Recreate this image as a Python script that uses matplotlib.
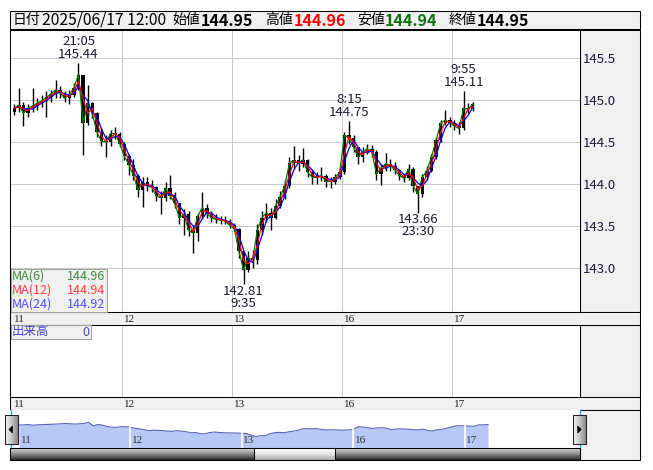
import matplotlib
matplotlib.use('Agg')
import matplotlib.pyplot as plt
import numpy as np
import pandas as pd
from matplotlib.patches import Rectangle, Polygon
from matplotlib.colors import LinearSegmentedColormap

plt.rcParams['font.family'] = ['Noto Sans CJK JP', 'DejaVu Sans']

W, H = 653, 470

# ---------------- data ----------------
day_labels = ['11', '12', '13', '16', '17']
day_starts = [0, 24, 48, 72, 96]          # trading-hour index of each day start
price_ticks = [143.0, 143.5, 144.0, 144.5, 145.0, 145.5]

first_open = 144.86
closes = [144.90, 144.94, 144.84, 144.90, 144.93, 144.96, 144.99, 145.03, 145.07, 145.12,
          145.08, 145.02, 145.06, 145.14, 145.30, 144.72, 144.96, 144.84, 144.62, 144.51,
          144.50, 144.60, 144.60, 144.48, 144.33, 144.23, 144.10, 143.93, 144.02, 143.98,
          143.96, 143.86, 143.84, 143.95, 143.86, 143.77, 143.60, 143.64, 143.45, 143.42,
          143.62, 143.72, 143.65, 143.60, 143.58, 143.57, 143.56, 143.51, 143.47, 143.20,
          142.98, 143.12, 143.10, 143.45, 143.60, 143.66, 143.60, 143.74, 143.85, 143.98,
          144.25, 144.28, 144.24, 144.28, 144.14, 144.08, 144.08, 144.10, 144.03, 144.03,
          144.08, 144.14, 144.58, 144.55, 144.44, 144.32, 144.38, 144.42, 144.38, 144.12,
          144.19, 144.24, 144.22, 144.17, 144.10, 144.07, 144.18, 143.98, 143.88, 144.08,
          144.16, 144.32, 144.52, 144.72, 144.76, 144.73, 144.69, 144.66, 144.90, 144.89,
          144.95]
highs = [144.95, 145.14, 144.98, 144.95, 145.14, 145.02, 145.06, 145.10, 145.12, 145.24,
         145.16, 145.10, 145.12, 145.20, 145.44, 145.30, 145.18, 144.98, 144.85, 144.66,
         144.58, 144.64, 144.68, 144.62, 144.50, 144.36, 144.30, 144.12, 144.08, 144.08,
         144.05, 143.98, 143.92, 144.02, 144.11, 143.90, 143.78, 143.70, 143.68, 143.50,
         143.66, 143.90, 143.76, 143.68, 143.64, 143.62, 143.62, 143.58, 143.54, 143.48,
         143.12, 143.20, 143.22, 143.52, 143.68, 143.78, 143.72, 143.82, 143.92, 144.05,
         144.32, 144.45, 144.34, 144.43, 144.30, 144.18, 144.14, 144.20, 144.12, 144.08,
         144.12, 144.20, 144.62, 144.75, 144.58, 144.44, 144.44, 144.48, 144.46, 144.40,
         144.24, 144.37, 144.30, 144.26, 144.18, 144.12, 144.24, 144.20, 143.95, 144.12,
         144.22, 144.36, 144.56, 144.76, 144.88, 144.80, 144.76, 144.74, 145.11, 144.96,
         144.98]
lows = [144.82, 144.86, 144.69, 144.80, 144.86, 144.88, 144.92, 144.80, 144.98, 145.02,
        145.02, 144.97, 144.95, 145.04, 145.12, 144.35, 144.70, 144.78, 144.56, 144.45,
        144.32, 144.45, 144.54, 144.44, 144.28, 144.11, 144.05, 143.85, 143.73, 143.92,
        143.90, 143.80, 143.65, 143.80, 143.82, 143.72, 143.52, 143.40, 143.38, 143.18,
        143.32, 143.58, 143.60, 143.55, 143.54, 143.52, 143.52, 143.48, 143.44, 143.12,
        142.81, 142.95, 143.00, 143.05, 143.40, 143.55, 143.45, 143.58, 143.72, 143.82,
        143.95, 144.18, 144.15, 144.20, 144.08, 144.00, 144.00, 144.04, 143.96, 143.95,
        144.00, 144.06, 144.12, 144.48, 144.38, 144.24, 144.26, 144.36, 144.32, 144.05,
        143.99, 144.16, 144.16, 144.12, 144.05, 144.02, 144.05, 143.90, 143.66, 143.85,
        144.05, 144.14, 144.30, 144.50, 144.70, 144.68, 144.64, 144.60, 144.64, 144.84,
        144.87]

event_bars = [14, 50, 73, 88, 98]
event_times = ['21:05', '9:35', '8:15', '23:30', '9:55']
event_prices = [145.44, 142.81, 144.75, 143.66, 145.11]
event_kinds = ['high', 'low', 'high', 'low', 'high']

ma_names = ['MA(6)', 'MA(12)', 'MA(24)']
ma_windows = [1, 2, 3]            # hourly-bar equivalent of 6/12/24 five-minute bars
ma_last = ['144.96', '144.94', '144.92']
ma_line_colors = ['#008000', '#ff0000', '#0000ff']
ma_text_colors = ['#3c8c3c', '#ff3c3c', '#5050ff']

hdr_date = '2025/06/17 12:00'
hdr_labels = ['始値', '高値', '安値', '終値']
hdr_values = ['144.95', '144.96', '144.94', '144.95']
hdr_colors = ['#000000', '#ff0000', '#107010', '#000000']

volume_label = '出来高'
volume_value = '0'

opens = [first_open] + closes[:-1]
n = len(closes)
xc = np.arange(n) + 0.5

# ---------------- figure ----------------
fig = plt.figure(figsize=(W / 100, H / 100), dpi=100)
fig.patch.set_facecolor('white')

def px_axes(x0, y0, x1, y1, z=1):
    a = fig.add_axes([x0 / W, 1 - y1 / H, (x1 - x0) / W, (y1 - y0) / H])
    a.set_zorder(z)
    return a

bg = fig.add_axes([0, 0, 1, 1])
bg.set_zorder(0)
bg.set_xlim(0, W); bg.set_ylim(H, 0)
bg.set_axis_off()

ov = fig.add_axes([0, 0, 1, 1])
ov.set_zorder(10)
ov.set_xlim(0, W); ov.set_ylim(H, 0)
ov.set_axis_off()
ov.patch.set_visible(False)

PANEL = '#f0f0f0'
GRID = '#c8c8c8'
LW1 = 0.75

# header
bg.add_patch(Rectangle((10, 10.5), 630, 18.5, fc=PANEL, ec='black', lw=LW1))
bg.text(13, 20, '日付', fontsize=10, va='center', ha='left')
bg.text(42, 20, hdr_date, fontsize=11.3, va='center', ha='left')
lab_x = [172, 265, 357, 449]
val_x = [201, 294, 385, 477]
for lx, vx, lab, val, col in zip(lab_x, val_x, hdr_labels, hdr_values, hdr_colors):
    bg.text(lx, 20, lab, fontsize=10, va='center', ha='left')
    bg.text(vx, 20.5, val, fontsize=11.5, va='center', ha='left', color=col, fontweight='bold')

# right gray panels & strips
bg.add_patch(Rectangle((580, 30), 60, 282, fc=PANEL, ec='black', lw=LW1))
bg.add_patch(Rectangle((580, 325), 60, 72, fc=PANEL, ec='black', lw=LW1))
bg.add_patch(Rectangle((10, 312), 630, 13, fc=PANEL, ec='black', lw=LW1))
bg.add_patch(Rectangle((10, 397), 630, 13, fc=PANEL, ec='black', lw=LW1))
bg.add_patch(Rectangle((580, 410), 60, 50, fc=PANEL, ec='black', lw=LW1))

X0, X1 = -0.44, 123.9
px_per_h = 570 / (X1 - X0)

# ---------------- main price chart ----------------
ax = px_axes(10, 30, 580, 312, z=2)
ax.set_xlim(X0, X1)
ax.set_ylim(142.48, 145.83)
ax.set_yticks(price_ticks)
ax.set_yticklabels([f'{t:.1f}' for t in price_ticks])
ax.yaxis.tick_right()
ax.tick_params(axis='y', length=0, pad=2, labelsize=9.5, labelcolor='#1a1a3c')
ax.set_xticks(day_starts[1:])
ax.tick_params(axis='x', length=0, labelbottom=False)
ax.grid(True, color=GRID, lw=LW1)
ax.set_axisbelow(True)
for s in ax.spines.values():
    s.set_color('black'); s.set_linewidth(LW1)

o = np.array(opens); c = np.array(closes)
ax.vlines(xc, lows, highs, color='black', lw=1.0, zorder=3)
body_bot = np.minimum(o, c)
body_h = np.maximum(np.abs(c - o), 0.01)
ax.bar(xc, body_h, bottom=body_bot, width=0.75, color='black', lw=0, zorder=3)

cs = pd.Series(closes)
for k in [0, 2, 1]:
    ma = cs.rolling(ma_windows[k], min_periods=1).mean()
    ax.plot(xc, ma, color=ma_line_colors[k], lw=0.9, zorder=4)

for b, t, p, kind in zip(event_bars, event_times, event_prices, event_kinds):
    xy = (b + 0.5, p)
    if kind == 'high':
        offs = [(8, f'{p:.2f}'), (21, t)]
    else:
        offs = [(-7, f'{p:.2f}'), (-19, t)]
    for dy, s in offs:
        ax.annotate(s, xy=xy, xytext=(0, dy), textcoords='offset pixels',
                    ha='center', va='center', fontsize=9.5, color='#1c1c30', zorder=6)

# ---------------- date strips ----------------
for (y0, y1) in [(312, 325), (397, 410)]:
    st = px_axes(10, y0, 640, y1, z=1)
    st.set_xlim(X0, X0 + 630 / px_per_h)
    st.set_ylim(0, 1)
    st.set_axis_off()
    st.patch.set_visible(False)
    for d, lab in zip(day_starts, day_labels):
        st.text(d + 1.5 / px_per_h, 0.45, lab, fontsize=8, va='center', ha='left',
                family=['Liberation Serif', 'DejaVu Serif'], color='#202020')

# ---------------- volume panel ----------------
vax = px_axes(10, 325, 580, 397, z=2)
vax.set_xlim(X0, X1)
vax.set_ylim(0, 1)
vax.set_xticks(day_starts[1:])
vax.set_yticks([])
vax.tick_params(axis='x', length=0, labelbottom=False)
vax.grid(True, axis='x', color=GRID, lw=LW1)
for s in vax.spines.values():
    s.set_color('black'); s.set_linewidth(LW1)

# ---------------- navigator ----------------
nav = px_axes(10, 410, 580, 448, z=2)
NX0 = -9 / 4.644
nav.set_xlim(NX0, NX0 + 570 / 4.644)
nav.set_ylim(141.1, 147.33)
nav.set_xticks([]); nav.set_yticks([])
for s in nav.spines.values():
    s.set_visible(False)
nx = np.concatenate([[0], np.arange(n) + 1.0])
ny = np.concatenate([[first_open], closes])
nav.fill_between(nx, ny, 141.1, color='#b8c8f6', lw=0)
nav.plot(nx, ny, color='#5a66b8', lw=0.8)
nav.vlines(day_starts[1:], 141.1, 147.33, color='white', lw=1.2)
for d, lab in zip(day_starts, day_labels):
    nav.text(d + 1.5 / 4.644, 0.08, lab, transform=nav.get_xaxis_transform(),
             fontsize=8, va='bottom', ha='left', family=['Liberation Serif', 'DejaVu Serif'],
             color='#303030')
ov.plot([10.5, 10.5], [410, 448], color='#2aaee0', lw=1)
ov.plot([580, 580], [410, 448], color='#2aaee0', lw=1)

# scrollbar
grad = np.linspace(0, 1, 32).reshape(-1, 1)
cm_bar = LinearSegmentedColormap.from_list('bar', ['#d8d8d8', '#8c8c8c', '#2a2a2a'])
cm_thumb = LinearSegmentedColormap.from_list('th', ['#ffffff', '#e4e4e4', '#a8a8a8'])
cm_btn = LinearSegmentedColormap.from_list('bt', ['#f4f4f4', '#c8c8c8', '#8a8a8a'])
ov.imshow(grad, extent=(10, 580, 460, 448), cmap=cm_bar, aspect='auto', zorder=1)
ov.add_patch(Rectangle((10, 448), 570, 12, fc='none', ec='black', lw=LW1, zorder=2))
ov.imshow(grad, extent=(254, 335, 460, 448), cmap=cm_thumb, aspect='auto', zorder=3)
ov.add_patch(Rectangle((254, 448), 81, 12, fc='none', ec='black', lw=LW1, zorder=4))

# buttons
hgrad = np.linspace(0, 1, 32).reshape(1, -1)
for (bx0, bx1, direction) in [(4.5, 17.5, 'left'), (573, 585.5, 'right')]:
    ov.imshow(hgrad, extent=(bx0, bx1, 444, 415), cmap=cm_btn, aspect='auto', zorder=5)
    ov.add_patch(Rectangle((bx0, 415), bx1 - bx0, 29, fc='none', ec='#202020', lw=LW1, zorder=6))
    cx = (bx0 + bx1) / 2
    if direction == 'left':
        tri = [(cx - 2, 429.5), (cx + 1.5, 426), (cx + 1.5, 433)]
    else:
        tri = [(cx + 2, 429.5), (cx - 1.5, 426), (cx - 1.5, 433)]
    ov.add_patch(Polygon(tri, closed=True, fc='black', ec='black', lw=0.5, zorder=7))

# MA legend box
ov.add_patch(Rectangle((10.5, 269), 96.5, 43, fc=PANEL, ec='#a0a0a0', lw=LW1, zorder=1))
for k, yy in enumerate([276, 290, 304]):
    ov.text(12, yy, ma_names[k], fontsize=9, color=ma_text_colors[k], va='center', ha='left', zorder=2)
    ov.text(105.5, yy, ma_last[k], fontsize=9, color=ma_text_colors[k], va='center', ha='right', zorder=2)

# volume label box
ov.add_patch(Rectangle((10.5, 325), 80.5, 14, fc=PANEL, ec='#a0a0a0', lw=LW1, zorder=1))
ov.text(12, 332, volume_label, fontsize=9, color='#4646c8', va='center', ha='left', zorder=2)
ov.text(89, 332, volume_value, fontsize=9, color='#4646c8', va='center', ha='right', zorder=2)

ov.set_xlim(0, W); ov.set_ylim(H, 0)
fig.savefig('out.png', dpi=100, facecolor='white')
